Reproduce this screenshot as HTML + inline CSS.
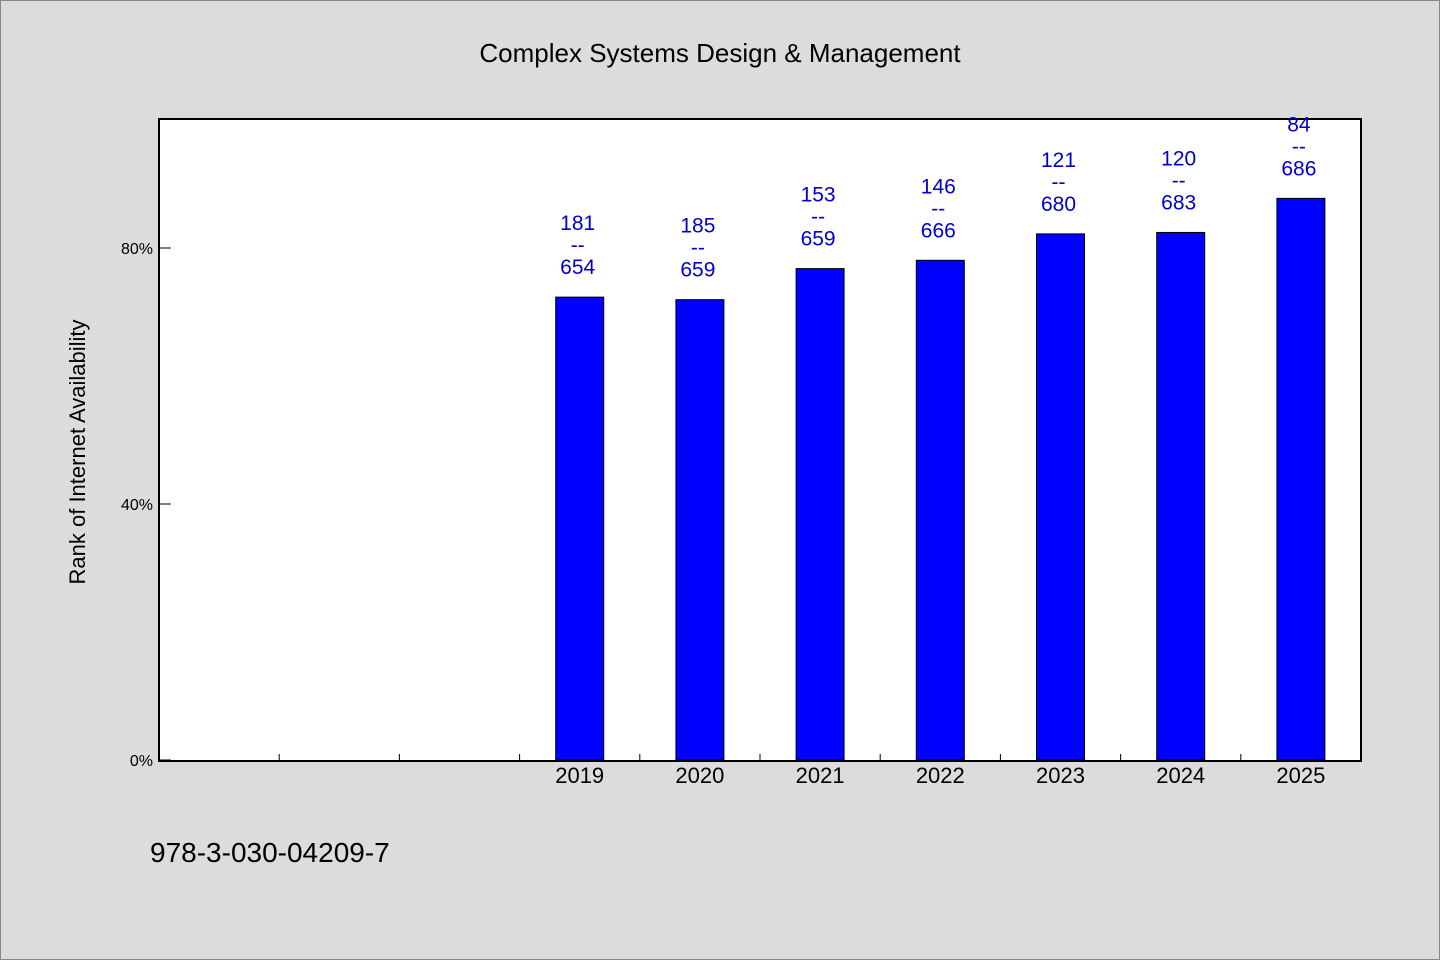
<!DOCTYPE html>
<html><head><meta charset="utf-8"><style>
html,body{margin:0;padding:0;background:#dcdcdc;}
svg{display:block;font-family:"WenQuanYi Zen Hei","Liberation Sans",sans-serif;}
</style></head><body>
<svg width="1440" height="960" viewBox="0 0 1440 960">
<rect x="0.5" y="0.5" width="1439" height="959" fill="#dcdcdc" stroke="#888"/>
<text x="720" y="62" text-anchor="middle" font-size="26" fill="#000">Complex Systems Design &amp; Management</text>
<rect x="159" y="119" width="1202" height="642" fill="#fff" stroke="#000" stroke-width="2"/>
<text transform="translate(85,452) rotate(-90)" text-anchor="middle" font-size="22">Rank of Internet Availability</text>
<text x="150" y="862" font-size="28">978-3-030-04209-7</text>
<g id="g"></g>
</svg>
<script>
const categories=["","","","2019","2020","2021","2022","2023","2024","2025"];
const ranks=[null,null,null,181,185,153,146,121,120,84];
const totals=[null,null,null,654,659,659,666,680,683,686];
const yTicks=[0,40,80];
const X0=159,X1=1361,Y0=760,Y100=120;
const slot=(X1-X0)/categories.length;
const xc=i=>X0+slot*(i+0.5);
const y=v=>Y0-(Y0-Y100)*v/100;
const g=document.getElementById('g');
const NS='http://www.w3.org/2000/svg';
function mk(t,a){const e=document.createElementNS(NS,t);for(const k in a)e.setAttribute(k,a[k]);g.appendChild(e);return e;}
yTicks.forEach(v=>{
 const l=mk('line',{x1:X0,x2:X0+12,y1:y(v),y2:y(v),stroke:'#000'});
 
 
 const t=mk('text',{x:X0-6,y:y(v)+6,'text-anchor':'end','font-size':16});
 t.textContent=v+'%';
 
 
});
for(let i=1;i<categories.length;i++){
 const l=mk('line',{x1:X0+slot*i,x2:X0+slot*i,y1:Y0,y2:Y0-6,stroke:'#000'});
 
 
}
categories.forEach((c,i)=>{
 if(ranks[i]==null)return;
 const v=100*(1-ranks[i]/totals[i]);
 const top=y(v);
 const b=mk('rect',{x:xc(i)-24,y:top,width:48,height:Y0-top,fill:'#0000ff',stroke:'#000','stroke-width':1});
 
 
 const xl=mk('text',{x:xc(i),y:783,'text-anchor':'middle','font-size':22});
 xl.textContent=c;
 
 
 [[ranks[i],top-67],['--',top-45],[totals[i],top-23]].forEach(([s,yy])=>{
  const t=mk('text',{x:xc(i)-2,y:yy,'text-anchor':'middle','font-size':21,fill:'#0000cc'});
  t.textContent=s;
  
  
 });
});
</script>
</body></html>
